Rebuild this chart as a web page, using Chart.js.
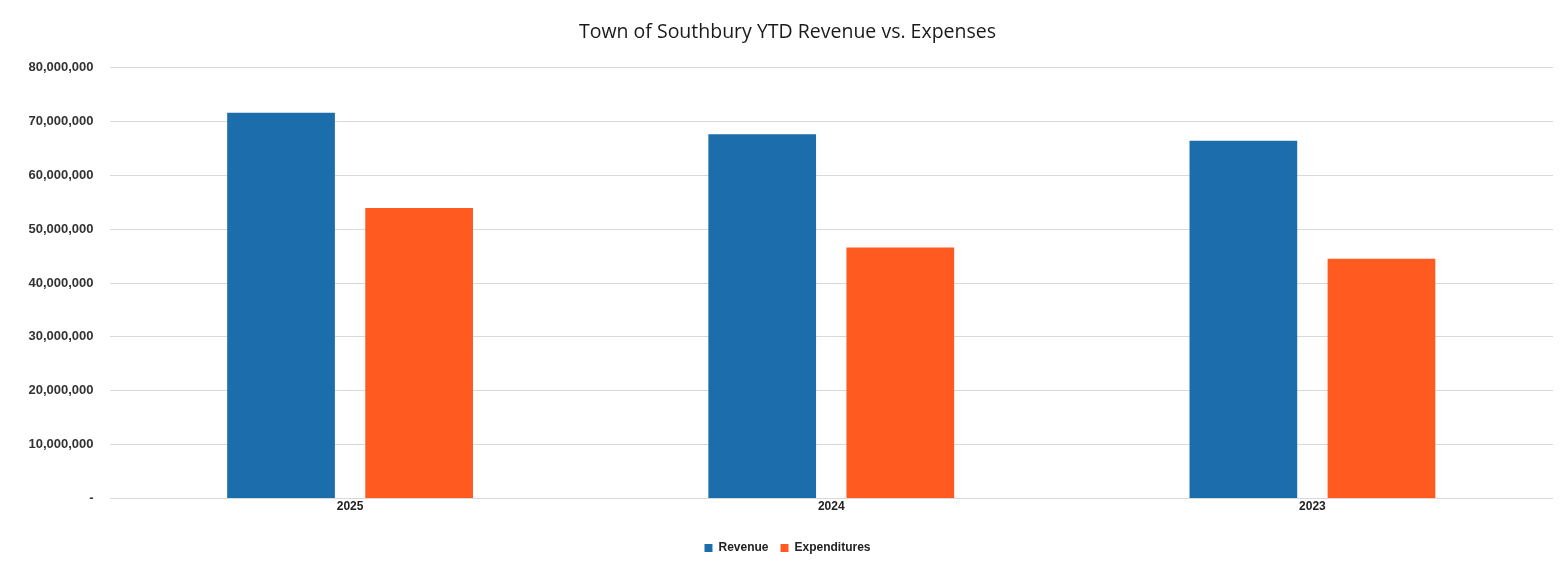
<!DOCTYPE html>
<html>
<head>
<meta charset="utf-8">
<script src="https://cdn.jsdelivr.net/npm/chart.js@4/dist/chart.umd.min.js"></script>
<style>
  html, body { margin: 0; padding: 0; background: #ffffff; }
  #wrap { position: relative; width: 1567px; height: 570px; }
  canvas { display: block; }
</style>
</head>
<body>
<div id="wrap"><canvas id="c" width="1567" height="570"></canvas></div>
<script>
const categories = ["2025", "2024", "2023"];
const revenue = [71600000, 67600000, 66400000];
const expenditures = [53900000, 46600000, 44500000];
const seriesNames = ["Revenue", "Expenditures"];
const titleText = "Town of Southbury YTD Revenue vs. Expenses";

const fmt = v => v === 0 ? "-" : v.toLocaleString("en-US");

new Chart(document.getElementById("c"), {
  type: "bar",
  data: {
    labels: categories,
    datasets: [
      { label: seriesNames[0], data: revenue, backgroundColor: "#1b6eab", borderWidth: 0 },
      { label: seriesNames[1], data: expenditures, backgroundColor: "#ff5a1f", borderWidth: 0 }
    ]
  },
  options: {
    responsive: false,
    animation: false,
    devicePixelRatio: 1,
    categoryPercentage: 0.574,
    barPercentage: 0.78,
    layout: { padding: { left: 22, right: 14, top: 0, bottom: 6 } },
    plugins: {
      title: {
        display: true,
        text: titleText,
        color: "#1a1a1a",
        font: { family: "'Open Sans', 'Liberation Sans', sans-serif", size: 19.5, weight: "normal" },
        padding: { top: 21, bottom: 23 }
      },
      legend: {
        position: "bottom",
        labels: {
          boxWidth: 8, boxHeight: 8,
          color: "#222222",
          font: { family: "'Liberation Sans', sans-serif", size: 12, weight: "bold" },
          padding: 12
        }
      },
      tooltip: { enabled: false }
    },
    scales: {
      x: {
        grid: { display: false, drawTicks: false },
        border: { display: false },
        afterFit: s => { s.height += 15; },
        ticks: {
          color: "#222222",
          font: { family: "'Liberation Sans', sans-serif", size: 12, weight: "bold" },
          padding: 1
        }
      },
      y: {
        min: 0, max: 80000000,
        afterFit: s => { s.width = 87.5; },
        grid: { color: "#d9d9d9", lineWidth: 1, drawTicks: false },
        border: { display: false },
        ticks: {
          stepSize: 10000000,
          padding: 16,
          color: "#333333",
          font: { family: "'Liberation Sans', sans-serif", size: 13, weight: "bold" },
          callback: v => fmt(v)
        }
      }
    }
  }
});
</script>
</body>
</html>
